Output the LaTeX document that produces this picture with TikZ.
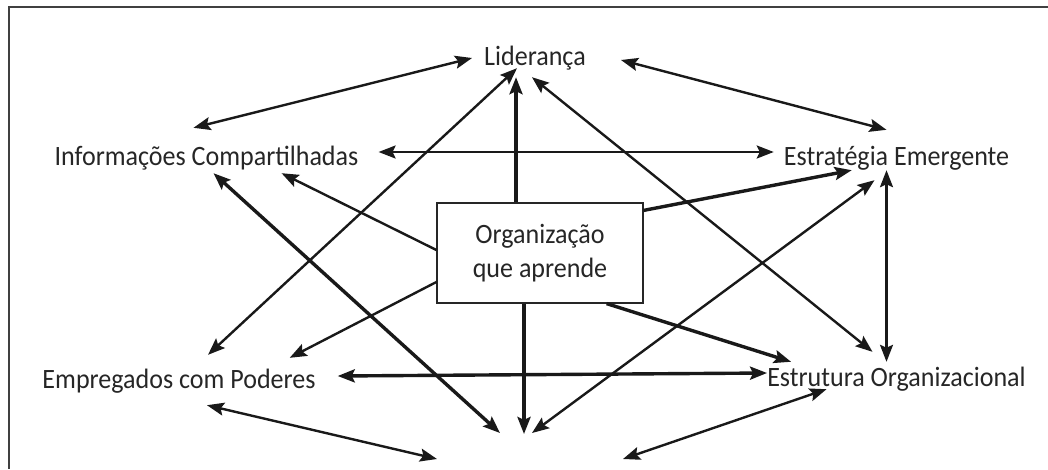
\documentclass[tikz,border=0pt]{standalone}
\usepackage{fontspec}
\setmainfont{Carlito}[FakeStretch=0.93]
\usetikzlibrary{arrows.meta}

\begin{document}
\begin{tikzpicture}[x=1pt, y=-1pt]
		\tikzstyle{lbl}=[inner sep=0pt, text height=20pt, text depth=6pt, text=black!85, font=\fontsize{28}{34}\selectfont]
		\tikzstyle{arr}=[>={Stealth[length=17pt, width=13pt, inset=3pt]}, ->, line width=2.4pt, black!90]
		\tikzstyle{arr2}=[arr, <->]
		\tikzstyle{heavy}=[line width=3.4pt]
		\useasboundingbox (0, 0) rectangle (1048, 469);
		\draw[line width=1.2pt, black!75] (1048, 7) -- (9, 7) -- (9, 469);
		\node[lbl] (lid) at (535, 58) {Liderança};
		\node[lbl] (info) at (206.5, 158) {Informações Compartilhadas};
		\node[lbl] (estr) at (896.5, 158) {Estratégia Emergente};
		\node[lbl] (emp) at (179, 381) {Empregados com Poderes};
		\node[lbl] (org) at (896.5, 379) {Estrutura Organizacional};
		\node[lbl, draw=black!85, line width=1.2pt, text height=, text depth=, minimum width=206pt, minimum height=100pt, align=center] (box) at (540, 253) {Organização\\que aprende};
		\coordinate (bot) at (530, 445);
		% ligacoes entre os elementos
		\draw[arr2] ([shift={(-13, -17)}]info.north) -- ([shift={(-12, 0)}]lid.west);
		\draw[arr2] ([shift={(35, 2)}]lid.east) -- ([shift={(-10, -15)}]estr.north);
		\draw[arr2] ([shift={(20, -6)}]info.east) -- ([shift={(-10, -6)}]estr.west);
		\draw[arr2] ([shift={(29, -13)}]emp.north) -- ([shift={(-18, -3)}]lid.south);
		\draw[arr2, heavy] ([shift={(7, 2)}]info.south) -- ([shift={(-30, -12)}]bot);
		\draw[arr2] ([shift={(-3, 6)}]lid.south) -- ([shift={(-24, -14)}]org.north);
		\draw[arr2] ([shift={(-22, 9)}]estr.south) -- ([shift={(2, -12)}]bot);
		\draw[arr2] ([shift={(-10, -1)}]estr.south) -- ([shift={(-10, -4)}]org.north);
		\draw[arr2, heavy] ([shift={(22, -5)}]emp.east) -- ([shift={(0, -6)}]org.west);
		\draw[arr2] ([shift={(28, 11)}]emp.south) -- ([shift={(-93, 14)}]bot);
		\draw[arr2] ([shift={(-70, -3)}]org.south) -- ([shift={(93, 14)}]bot);
		% saidas da caixa central
		\draw[arr, heavy] ([shift={(-24, 0)}]box.north) -- ([shift={(-19, 6)}]lid.south);
		\draw[arr] ([shift={(0, -3)}]box.west) -- ([shift={(-77, 2)}]info.south east);
		\draw[arr] ([shift={(0, 29)}]box.west) -- ([shift={(-26, -10)}]emp.north east);
		\draw[arr, heavy] ([shift={(0, 8)}]box.north east) -- ([shift={(68, -1)}]estr.south west);
		\draw[arr, heavy] ([shift={(-37, 0)}]box.south east) -- ([shift={(24, -4)}]org.north west);
		\draw[arr, heavy] ([shift={(-16, 0)}]box.south) -- ([shift={(-6, -11)}]bot);
	\end{tikzpicture}
\end{document}
